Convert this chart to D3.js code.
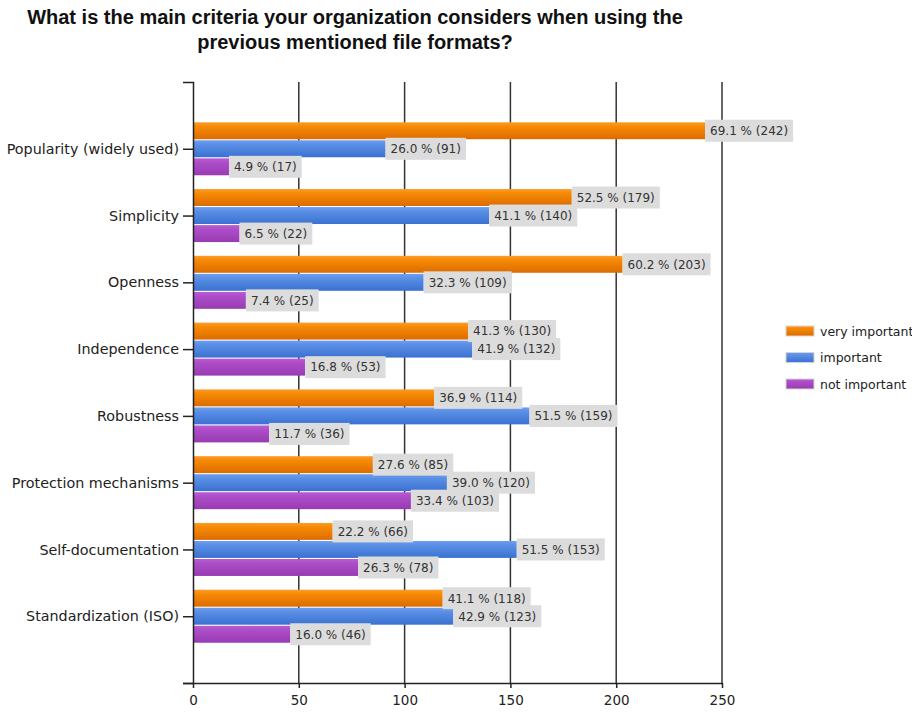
<!DOCTYPE html>
<html>
<head>
<meta charset="utf-8">
<script src="https://cdn.jsdelivr.net/npm/d3@7"></script>
<style>
  html, body { margin: 0; padding: 0; background: #fff; }
  svg { display: block; font-family: "DejaVu Sans", Verdana, sans-serif; }
</style>
</head>
<body>
<svg id="chart" width="912" height="715"></svg>
<script>
// Survey answers: how important each criterion is when choosing file formats
const titleLines = [
  "What is the main criteria your organization considers when using the",
  "previous mentioned file formats?"
];
const categories = [
  "Popularity (widely used)", "Simplicity", "Openness", "Independence",
  "Robustness", "Protection mechanisms", "Self-documentation", "Standardization (ISO)"
];
const seriesNames = ["very important", "important", "not important"];
// respondent counts per category
const veryImportant = [242, 179, 203, 130, 114, 85, 66, 118];
const important     = [91, 140, 109, 132, 159, 120, 153, 123];
const notImportant  = [17, 22, 25, 53, 36, 103, 78, 46];
// share of respondents (percent)
const veryImportantPct = [69.1, 52.5, 60.2, 41.3, 36.9, 27.6, 22.2, 41.1];
const importantPct     = [26.0, 41.1, 32.3, 41.9, 51.5, 39.0, 51.5, 42.9];
const notImportantPct  = [4.9, 6.5, 7.4, 16.8, 11.7, 33.4, 26.3, 16.0];
const xTicks = [0, 50, 100, 150, 200, 250];

const seriesCounts = [veryImportant, important, notImportant];
const seriesPct = [veryImportantPct, importantPct, notImportantPct];
const gradients = [
  ["#fb9c2c", "#f78a04", "#dc6c00"],
  ["#6c9ff0", "#5b8fe6", "#3a71d1"],
  ["#ba5cd4", "#ad4ec8", "#983bb2"]
];

const svg = d3.select("#chart");
const plotLeft = 193, plotRight = 722, plotTop = 82, plotBottom = 683;

const defs = svg.append("defs");
gradients.forEach((g, i) => {
  const lg = defs.append("linearGradient")
    .attr("id", "grad" + i).attr("x1", 0).attr("y1", 0).attr("x2", 0).attr("y2", 1);
  lg.append("stop").attr("offset", "0%").attr("stop-color", g[0]);
  lg.append("stop").attr("offset", "25%").attr("stop-color", g[1]);
  lg.append("stop").attr("offset", "100%").attr("stop-color", g[2]);
});

// title
svg.append("g").selectAll("text").data(titleLines).join("text")
  .attr("x", 355).attr("y", (d, i) => 24 + i * 25)
  .attr("text-anchor", "middle")
  .attr("font-family", "'Liberation Sans', Arial, sans-serif")
  .attr("font-size", 20).attr("font-weight", "bold").attr("fill", "#111")
  .text(d => d);

const x = d3.scaleLinear().domain([0, 250]).range([plotLeft, plotRight]);
const y = d3.scaleLinear().domain([0, categories.length + 1]).range([plotTop, plotBottom]);
const inner = d3.scaleBand().domain(d3.range(seriesNames.length)).range([-26.5, 26.5]).paddingInner(0.06);

// vertical grid lines
svg.append("g").selectAll("line").data(xTicks.slice(1)).join("line")
  .attr("x1", d => x(d)).attr("x2", d => x(d))
  .attr("y1", plotTop).attr("y2", plotBottom)
  .attr("stroke", "#333").attr("stroke-width", 1.5);

// bars
const barLayer = svg.append("g");
seriesCounts.forEach((vals, s) => {
  barLayer.append("g").selectAll("rect").data(vals).join("rect")
    .attr("x", x(0))
    .attr("y", (d, i) => y(i + 1) + inner(s))
    .attr("width", d => x(d) - x(0))
    .attr("height", inner.bandwidth())
    .attr("fill", `url(#grad${s})`);
});

// value labels
const labelLayer = svg.append("g").attr("font-size", 12);
seriesCounts.forEach((vals, s) => {
  vals.forEach((v, i) => {
    const txt = `${seriesPct[s][i].toFixed(1)} % (${v})`;
    const cy = y(i + 1) + inner(s) + inner.bandwidth() / 2;
    const g = labelLayer.append("g");
    const t = g.append("text")
      .attr("x", x(v) + 5).attr("y", cy).attr("dy", "0.36em")
      .attr("fill", "#333").text(txt);
    const w = t.node().getComputedTextLength();
    g.insert("rect", "text")
      .attr("x", x(v)).attr("y", cy - 11)
      .attr("width", w + 10).attr("height", 22)
      .attr("fill", "#dcdcdc");
  });
});

// axes
const xAxis = svg.append("g").attr("transform", `translate(0,${plotBottom})`)
  .call(d3.axisBottom(x).tickValues(xTicks).tickSize(5).tickSizeOuter(0));
xAxis.attr("font-family", null);
xAxis.select(".domain").attr("d", `M${plotLeft - 10},0.5H${plotRight}`);
xAxis.selectAll(".domain, line").attr("stroke", "#222").attr("stroke-width", 1.5);
xAxis.selectAll("text").attr("font-size", 13.5).attr("fill", "#222").attr("dy", "1.05em");

const yAxis = svg.append("g").attr("transform", `translate(${plotLeft},0)`)
  .call(d3.axisLeft(y).tickValues(d3.range(1, categories.length + 1))
    .tickFormat(i => categories[i - 1]).tickSize(10).tickSizeOuter(10));
yAxis.attr("font-family", null);
yAxis.selectAll(".domain, line").attr("stroke", "#222").attr("stroke-width", 1.5);
yAxis.selectAll("text").attr("font-size", 14.3).attr("fill", "#222").attr("x", -14);

// legend
const legend = svg.append("g").attr("transform", "translate(786,326)");
const item = legend.selectAll("g").data(seriesNames).join("g")
  .attr("transform", (d, i) => `translate(0,${i * 26.5})`);
item.append("rect").attr("width", 28).attr("height", 10)
  .attr("fill", (d, i) => `url(#grad${i})`).attr("stroke", "#d4d4d4");
item.append("text").attr("x", 34).attr("y", 5).attr("dy", "0.36em")
  .attr("font-size", 12.5).attr("fill", "#222").text(d => d);
</script>
</body>
</html>
